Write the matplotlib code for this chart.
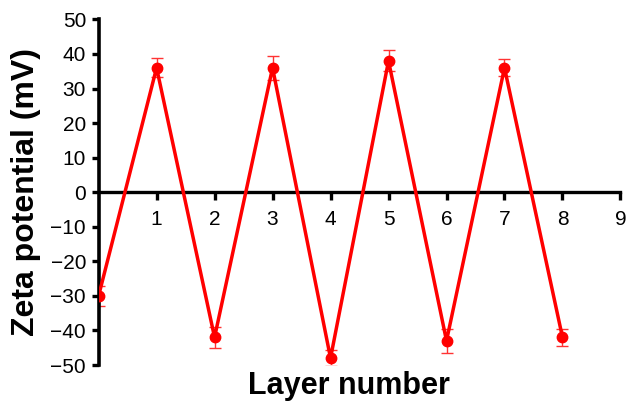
import numpy as np
import matplotlib
matplotlib.use('Agg')
import matplotlib.pyplot as plt

plt.rcParams['font.family'] = ['Liberation Sans', 'DejaVu Sans']

# Zeta potential per layer
layers = [0, 1, 2, 3, 4, 5, 6, 7, 8]
zeta = [-30, 36, -42, 36, -48, 38, -43, 36, -42]
zeta_err = [3, 2.7, 3, 3.5, 2.2, 3, 3.5, 2.4, 2.5]
xticks = [1, 2, 3, 4, 5, 6, 7, 8, 9]
yticks = [-50, -40, -30, -20, -10, 0, 10, 20, 30, 40, 50]

fig = plt.figure(figsize=(6.28, 4.04), dpi=100)
ax = fig.add_axes([0.157, 0.0965, 0.831, 0.8555])

ax.errorbar(layers, zeta, yerr=zeta_err, fmt='none', ecolor='#ff3333',
            elinewidth=1, capsize=4, capthick=1, zorder=2)
ax.plot(layers, zeta, color='#ff0000', lw=2.5, marker='o', ms=7.5, zorder=3)

ax.set_xlim(0, 9)
ax.set_ylim(-50, 50)
ax.set_xticks(xticks)
ax.set_yticks(yticks)

ax.spines['top'].set_visible(False)
ax.spines['right'].set_visible(False)
ax.spines['bottom'].set_position(('data', 0))
ax.spines['left'].set_linewidth(2.6)
ax.spines['bottom'].set_linewidth(2.4)

ax.tick_params(axis='y', direction='out', length=5, width=2.4, labelsize=15, pad=4)
ax.tick_params(axis='x', direction='out', length=6, width=2.4, labelsize=15, pad=7)

fig.text(0.042, 0.525, 'Zeta potential (mV)', fontsize=23, fontweight='bold',
         rotation=90, ha='center', va='center')
fig.text(0.556, 0.045, 'Layer number', fontsize=22, fontweight='bold',
         ha='center', va='center')

fig.savefig('out.png', dpi=100)
